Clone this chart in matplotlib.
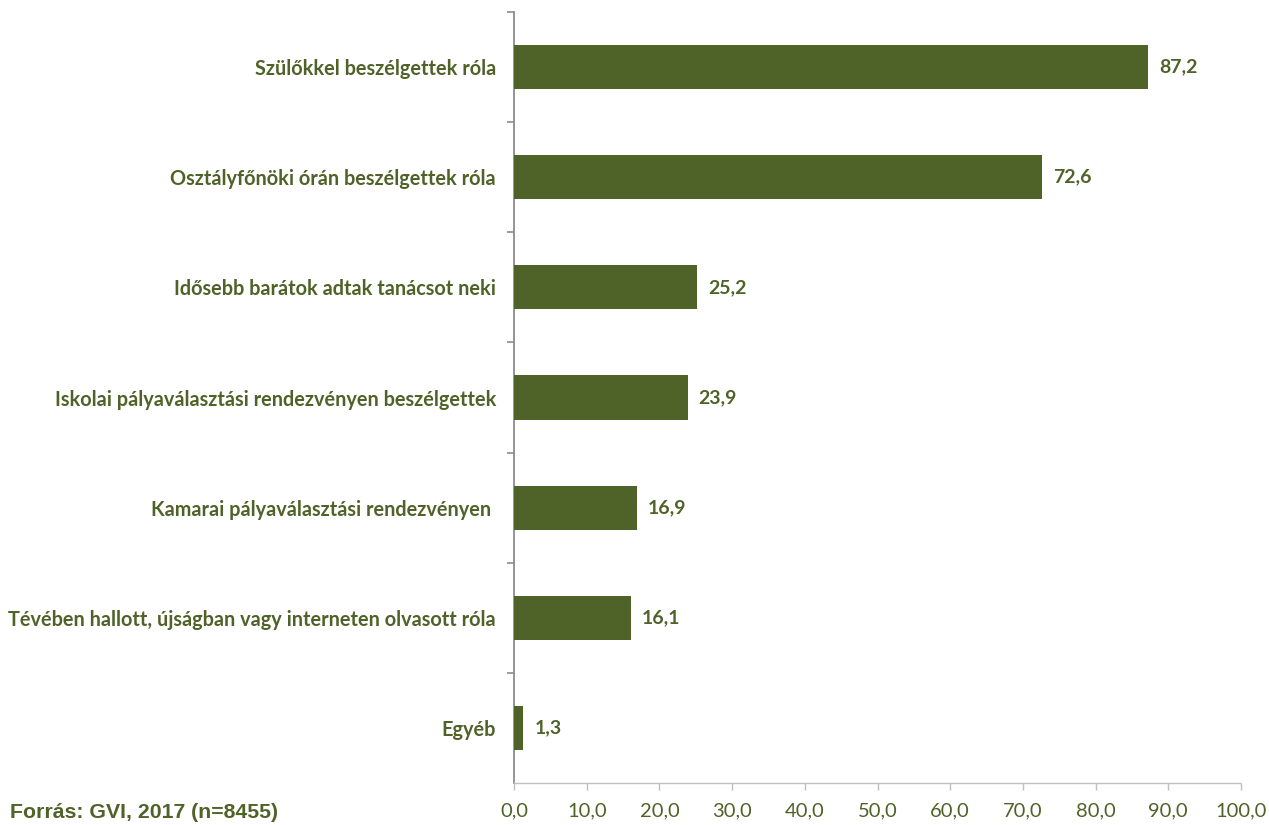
import matplotlib
matplotlib.use("Agg")
import matplotlib.pyplot as plt
from matplotlib.ticker import FixedLocator

categories = [
    "Szülőkkel beszélgettek róla",
    "Osztályfőnöki órán beszélgettek róla",
    "Idősebb barátok adtak tanácsot neki",
    "Iskolai pályaválasztási rendezvényen beszélgettek",
    "Kamarai pályaválasztási rendezvényen ",
    "Tévében hallott, újságban vagy interneten olvasott róla",
    "Egyéb",
]
values = [87.2, 72.6, 25.2, 23.9, 16.9, 16.1, 1.3]
xticks = [0, 10, 20, 30, 40, 50, 60, 70, 80, 90, 100]
source = "Forrás: GVI, 2017 (n=8455)"

green = "#4F6228"
txt = "#4F6228"
gray = "#8C8C8C"

fig = plt.figure(figsize=(12.69, 8.25), dpi=100)
ax = fig.add_axes([514/1269, 1-783/825, (1241-514)/1269, (783-12)/825])

n = len(categories)
ypos = list(range(n))
ax.barh(ypos, values, height=0.4, color=green, zorder=3)
ax.set_ylim(n-0.5, -0.5)
ax.set_xlim(0, 100)

ax.set_yticks(ypos)
ax.set_yticklabels(categories, fontfamily="Lato", fontweight="bold", fontsize=14.3, color=txt)
ax.tick_params(axis="y", which="major", length=0, pad=13)
ax.yaxis.set_minor_locator(FixedLocator([i-0.5 for i in range(n)]))
ax.tick_params(axis="y", which="minor", length=5, color=gray, width=1.2, direction="out")

ax.set_xticks(xticks)
ax.set_xticklabels([f"{v:.1f}".replace(".", ",") for v in xticks], fontfamily="Lato", fontsize=14.5, color=txt)
ax.tick_params(axis="x", length=5, color="#BFBFBF", width=1, direction="out", pad=9)

for s in ["top", "right"]:
    ax.spines[s].set_visible(False)
ax.spines["left"].set_color(gray)
ax.spines["left"].set_linewidth(1.3)
ax.spines["bottom"].set_color("#BFBFBF")
ax.spines["bottom"].set_linestyle((0, (1, 1)))
ax.spines["bottom"].set_linewidth(1)

for y, v in zip(ypos, values):
    ax.text(v + 1.5, y, f"{v:.1f}".replace(".", ","), va="center", ha="left",
            fontfamily="Lato", fontweight="bold", fontsize=14, color=txt)

fig.text(10/1269, 1-813/825, source, fontfamily="Liberation Sans", fontweight="bold",
         fontsize=15.3, color=txt, va="center", ha="left")

fig.savefig("out.png", dpi=100)
